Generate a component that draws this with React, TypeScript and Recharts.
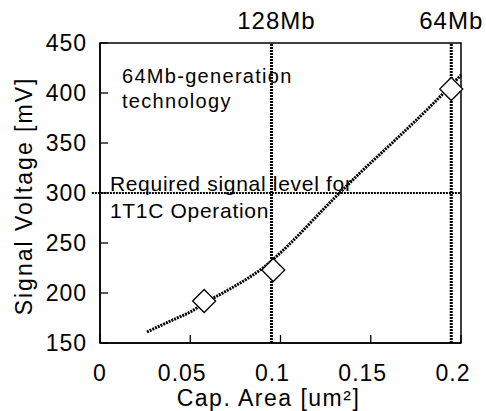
import { ComposedChart, Line, Scatter, XAxis, YAxis, ReferenceLine, ReferenceArea, Label } from 'recharts';

// signal curve
const capArea = [0.026, 0.039, 0.051, 0.058, 0.072, 0.083, 0.091, 0.098, 0.131, 0.144, 0.163, 0.181, 0.192, 0.2];
const signalMv = [161, 172, 182, 190, 204, 216, 226, 237, 297, 320, 352, 383, 403, 418];

// diamond markers
const markArea = [0.0577, 0.096, 0.1946];
const markMv = [192, 223, 404];

// generation lines
const genArea = [0.095, 0.1946];
const genNames = ['128Mb', '64Mb'];

const requiredLevel = 300;
const xTicks = [0, 0.05, 0.1, 0.15, 0.2];
const yTicks = [150, 200, 250, 300, 350, 400, 450];

const curve = capArea.map((x, i) => ({ x, y: signalMv[i] }));
const marks = markArea.map((x, i) => ({ x, y: markMv[i] }));

const FONT = '"Liberation Sans", Arial, sans-serif';
const TICK_IN = 8;
const X_GAP = 22;
const Y_GAP = 13;

const Diamond = (props: any) => {
  const { cx, cy } = props;
  const r = 11.5;
  return (
    <polygon
      points={`${cx},${cy - r} ${cx + r},${cy} ${cx},${cy + r} ${cx - r},${cy}`}
      fill="#fff"
      stroke="#000"
      strokeWidth={1.3}
    />
  );
};

// ticks point into the plot, so draw the tick line here
const XTick = (props: any) => {
  const { x, y, payload } = props;
  const axisY = y - X_GAP;
  // labels in the original sit a little left of their ticks
  const shift = payload.value === 0 ? 0 : -8;
  return (
    <g>
      <line x1={x} x2={x} y1={axisY} y2={axisY - TICK_IN} stroke="#000" strokeWidth={1.3} />
      <text x={x + shift} y={y} dy="0.71em" textAnchor="middle" fontSize={23} fontFamily={FONT} letterSpacing={1} fill="#000">
        {String(payload.value)}
      </text>
    </g>
  );
};

const YTick = (props: any) => {
  const { x, y, payload } = props;
  const axisX = x + Y_GAP;
  return (
    <g>
      <line x1={axisX} x2={axisX + TICK_IN} y1={y} y2={y} stroke="#000" strokeWidth={1.3} />
      <text x={x} y={y} dy="0.355em" textAnchor="end" fontSize={23} fontFamily={FONT} letterSpacing={1} fill="#000">
        {String(payload.value)}
      </text>
    </g>
  );
};

const App = () => {
  return (
    <div style={{ position: 'absolute', left: 0, top: 0, fontFamily: FONT }}>
      <ComposedChart width={486} height={411} margin={{ top: 43, right: 25, bottom: 0, left: 0 }}>
        <XAxis
          type="number"
          dataKey="x"
          domain={[0, 0.2]}
          ticks={xTicks}
          interval={0}
          tickLine={false}
          tickSize={0}
          tickMargin={X_GAP}
          stroke="#000"
          strokeWidth={1.5}
          height={68}
          tick={<XTick />}
        >
          <Label
            content={({ viewBox }: any) => (
              <text
                x={viewBox.x + viewBox.width / 2 - 12}
                y={viewBox.y + 63}
                textAnchor="middle"
                fontSize={23}
                fontFamily={FONT}
                letterSpacing={1.5}
                fill="#000"
              >
                Cap. Area [um²]
              </text>
            )}
          />
        </XAxis>
        <YAxis
          type="number"
          dataKey="y"
          domain={[150, 450]}
          ticks={yTicks}
          interval={0}
          width={100}
          tickLine={false}
          tickSize={0}
          tickMargin={Y_GAP}
          stroke="#000"
          strokeWidth={1.5}
          tick={<YTick />}
        >
          <Label
            content={({ viewBox }: any) => {
              const cx = viewBox.x + 32;
              const cy = viewBox.y + viewBox.height / 2 + 3;
              return (
                <text
                  x={cx}
                  y={cy}
                  transform={`rotate(-90 ${cx} ${cy})`}
                  textAnchor="middle"
                  fontSize={23}
                  fontFamily={FONT}
                  letterSpacing={2}
                  fill="#000"
                >
                  Signal Voltage [mV]
                </text>
              );
            }}
          />
        </YAxis>
        <ReferenceArea
          x1={0}
          x2={0.2}
          y1={150}
          y2={450}
          fill="none"
          stroke="#000"
          strokeWidth={1.5}
          label={({ viewBox }: any) => (
            <text x={viewBox.x + 22} y={viewBox.y + 40} fontSize={20} fontFamily={FONT} letterSpacing={1.3} fill="#000">
              <tspan x={viewBox.x + 22}>64Mb-generation</tspan>
              <tspan x={viewBox.x + 22} dy={25}>technology</tspan>
            </text>
          )}
        />
        <ReferenceLine
          segment={[{ x: -0.0045, y: requiredLevel }, { x: 0.2, y: requiredLevel }]}
          ifOverflow="visible"
          stroke="#000"
          strokeWidth={2}
          strokeDasharray="2 1"
          label={({ viewBox }: any) => (
            <text x={viewBox.x + 18} y={viewBox.y - 2} fontSize={21} fontFamily={FONT} letterSpacing={0.7} fill="#000">
              <tspan x={viewBox.x + 18}>Required signal level for</tspan>
              <tspan x={viewBox.x + 18} dy={26.5}>1T1C Operation</tspan>
            </text>
          )}
        />
        {genArea.map((g, i) => (
          <ReferenceLine
            key={genNames[i]}
            x={g}
            stroke="#000"
            strokeWidth={3}
            strokeDasharray="2 1"
            label={{ value: genNames[i], position: 'top', offset: 14, fontSize: 24, fill: '#000', fontFamily: FONT, letterSpacing: 1, dx: i === 0 ? 5 : 0 }}
          />
        ))}
        <Line
          data={curve}
          dataKey="y"
          type="monotone"
          stroke="#000"
          strokeWidth={3}
          strokeDasharray="2 1"
          dot={false}
          activeDot={false}
          isAnimationActive={false}
        />
        <Scatter data={marks} dataKey="y" shape={Diamond} isAnimationActive={false} />
      </ComposedChart>
    </div>
  );
};

export default App;
